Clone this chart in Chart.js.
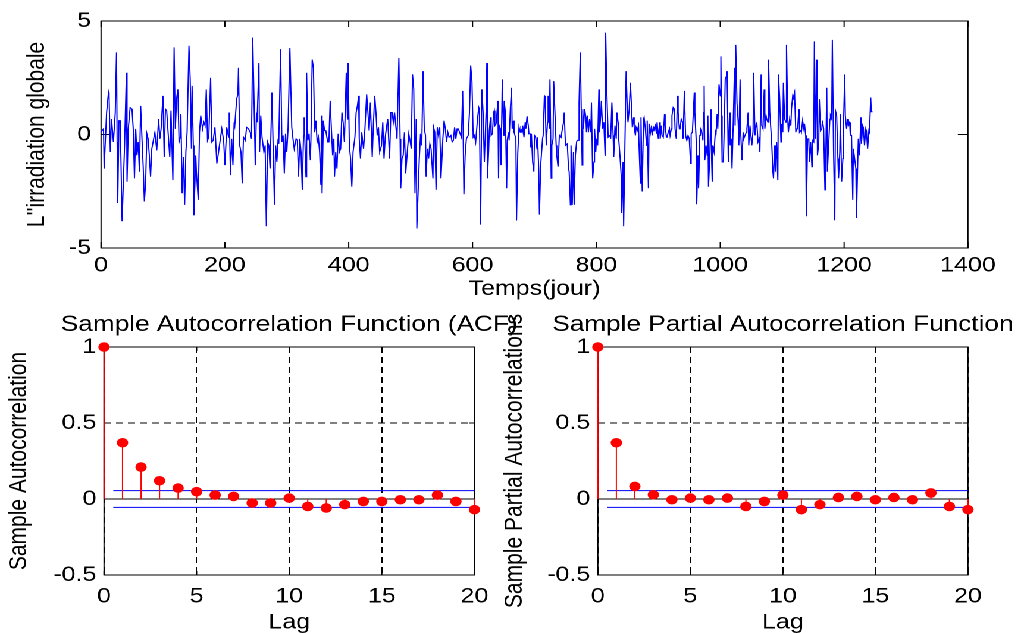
<!DOCTYPE html>
<html>
<head>
<meta charset="utf-8">
<script src="https://cdn.jsdelivr.net/npm/chart.js@4.4.0/dist/chart.umd.min.js"></script>
<style>
  html, body { margin: 0; padding: 0; background: #fff; overflow: hidden; }
  /* the source figure is stretched sideways, so the whole figure is too */
  #fig { position: absolute; left: 0; top: 0; width: 855.5px; height: 633px; transform: scaleX(1.19); transform-origin: 0 0; }
  canvas { position: absolute; }
  #series { left: 0; top: 0; width: 855px; height: 305px; }
  #acf { left: 0; top: 300px; width: 445px; height: 333px; }
  #pacf { left: 415px; top: 300px; width: 440px; height: 333px; }
</style>
</head>
<body>
<div id="fig">
  <canvas id="series" width="855" height="305"></canvas>
  <canvas id="acf" width="445" height="333"></canvas>
  <canvas id="pacf" width="440" height="333"></canvas>
</div>
<script>
// daily global irradiation (standardised)
const days = [
  0,4,5,9,12,13,15,17,20,23, 25,26,27,29,31,34,38,41,42,44, 47,50,52,54,56,58,60,62,64,67,
  68,70,72,74,76,78,80,82,85,87, 90,93,95,97,100,102,104,106,109,111, 113,116,118,120,122,124,126,128,129,131,
  133,135,137,139,142,144,146,147,149,150, 153,154,157,159,161,164,166,168,170,172, 174,177,179,181,184,187,189,192,195,198,
  200,203,206,207,209,211,213,215,216,219, 221,222,224,226,228,230,233,235,238,241, 243,245,248,249,251,252,255,256,258,260,
  263,265,267,269,271,273,276,278,280,282, 284,286,287,290,292,294,296,298,300,302, 305,308,310,312,
  315,317,319,321,323,325,327,328,331,332, 334,336,338,339,341,343,345,347,349,351, 353,355,356,357,359,361,363,366,368,370,
  372,374,376,377,379,381,383,385,387,389, 391,393,396,398,399,401,403,405,407,410, 412,414,416,417,419,421,424,426,429,431,
  433,435,438,440,442,444,446,448,450,453, 455,457,459,461,463,466,468,470,472,474, 476,478,481,483,484,486,488,490,492,495,
  497,499,501,503,505,507,509,510,512,514, 516,518,520,522,524,525,527,529,531,533, 536,537,539,541,543,545,547,549,552,554,
  556,558,560,562,565,567,569,571,573,575, 577,580,582,584,586,588,590,593,595,597, 599,601,603,605,608,610,611,613,615,617,
  619,622,623,624,626,627,
  629,630,632,634,635,636,638,641,642,643, 645,646,648,650,651,653,655,656,658,659, 661,663,664,666,667,670,671,673,675,677,
  678,680,681,683,685,686,688,690,691,693, 694,695,697,699,700,702,704,705,707,708, 710,713,714,716,717,719,721,722,724,725,
  727,728,730,731,733,735,736,738,740,741, 743,745,747,748,750,751,753,755,756,758, 759,761,763,764,766,768,769,771,772,774,
  776,777,778,779,781,783,784,786,787,789, 791,792,794,796,797,799,800,802,804,805, 807,808,810,812,814,815,817,819,820,822,
  823,825,827,828,830,832,833,835,836,838, 840,841,843,844,846,848,850,851,853,855, 856,858,860,861,863,864,866,868,869,871,
  872,874,876,877,879,881,882,884,885,887, 889,890,892,893,895,897,898,900,902,903, 905,906,908,910,911,913,914,916,918,919,
  921,922,924,926,927,929,931,932,934,935, 937,939,940,942,
  944,946,948,950,952,953,955,958,959,961, 962,964,965,967,968,970,972,973,974,975, 977,979,980,981,983,985,986,987,988,990,
  992,993,995,996,998,1000,1001,1002,1003,1005, 1007,1008,1010,1011,1013,1015,1016,1018,1019,1021,
  1023,1024,1025,1027,1029,1030,1032,1033,1035,1037, 1038,1040,1042,1043,1045,1046,1048,1050,1051,1053,
  1054,1056,1058,1059,1061,1063,1064,1066,1067,1069, 1071,1072,1074,1075,1077,1078,1080,1081,1083,1085,
  1086,1088,1089,1091,1093,1094,1096,1098,1099,1101, 1102,1104,1106,1107,1109,1110,1112,1114,1115,1117,
  1118,1120,1122,1123,1125,1127,1128,1130,1131,1133, 1135,1136,1138,1139,1141,1143,1144,1146,1148,1149,
  1151,1152,1154,1156,1157,1159,1160,1162,1164,1165, 1167,1169,1170,1172,1173,1175,1177,1178,1180,1181,
  1183,1185,1186,1188,1190,1191,1193,1194,1196,1198, 1199,1201,1202,1204,1206,1207,1209,1210,1212,1214,
  1215,1217,1219,1220,1222,1223,1225,1227,1228,1230, 1231,1233,1235,1236,1238,1240,1241,1243,1244,1245
];
const irradiation = [
  0.10,0.25,-1.50,0.97,1.85,1.70,-0.77,0.68,-0.33,0.97, 3.62,-0.33,-3.02,0.61,0.61,-3.82,-0.48,2.72,-2.08,0.25,
  1.19,1.12,0.25,-1.93,0.25,-0.92,-0.33,-1.64,1.26,-0.77, -1.35,-2.95,-2.15,0.03,-0.19,-0.92,-1.86,-0.63,-0.19,0.10,
  -0.70,0.68,-0.19,0.25,1.70,-0.99,1.12,1.05,-0.19,-0.99, 1.05,-2.01,3.84,0.25,1.56,1.99,-0.33,-0.12,0.90,-2.59,
  -0.99,-3.10,-0.77,0.10,3.91,2.43,-0.63,2.14,-0.48,-3.56, -0.92,-1.64,-2.88,0.10,0.83,0.25,0.54,0.39,1.99,-0.26,
  -0.12,2.50,-0.33,-0.26,0.32,-1.28,-0.92,-0.33,0.25,-0.26, -1.35,0.32,-0.12,0.97,-1.79,-0.19,-1.35,0.54,0.39,1.56,
  1.77,2.94,-0.48,-0.77,-2.15,-0.12,-0.26,0.32,0.25,0.10, -0.19,4.27,0.25,-1.35,0.97,0.54,3.15,-0.77,0.83,-0.12,
  -0.77,-0.48,-4.04,-0.33,-0.48,-1.50,1.85,-0.63,-3.10,-0.48, -1.21,-0.19,-0.41,3.76,-0.33,-0.04,-1.72,0.03,-0.77,0.25,
  3.81,0.32,-0.19,-0.63,
  -0.19,-0.26,-1.86,-0.19,-0.77,-2.44,-0.04,0.76,-1.86,2.72, -0.26,0.03,-1.13,-0.19,3.30,2.94,0.10,0.61,-0.33,-0.12,
  -0.77,-2.22,0.83,-2.59,0.61,0.17,0.17,-0.33,-0.33,1.48, 0.25,-0.92,-0.19,-1.86,-0.77,-1.50,0.03,-0.77,-0.63,0.97,
  0.54,-0.33,2.72,0.68,3.15,-0.48,-1.06,-2.30,-0.77,-0.12, 0.97,1.26,1.70,-0.19,-1.06,0.10,-0.63,0.17,1.77,0.97,
  0.17,1.41,-0.99,0.54,1.70,0.97,-0.04,0.32,-0.77,-0.48, 0.54,-1.06,-0.12,0.32,0.68,-1.06,0.97,0.97,0.54,0.97,
  0.39,-0.19,3.37,-0.19,-2.37,-1.06,-0.92,0.10,-1.72,-0.63, 0.03,-0.26,-0.63,2.65,1.99,-2.59,0.68,-4.14,-2.59,-1.06,
  0.03,-0.48,2.79,0.25,-0.04,-1.86,-0.63,-1.06,-0.41,-0.63, -1.93,0.32,0.10,-2.44,0.32,-0.04,0.32,-1.93,-0.19,0.61,
  0.25,-0.33,0.10,-0.12,-0.04,-0.33,-0.26,0.32,-0.19,0.25, 0.25,0.03,-0.12,1.92,-2.63,-0.92,-0.19,-0.04,0.97,3.04,
  2.35,-0.12,-0.04,-0.33,0.68,1.19,1.12,-3.97,1.99,0.97, -1.21,1.12,3.15,-1.93,-0.70,0.17,
  0.76,-0.04,0.03,0.97,1.05,0.39,0.47,1.48,-1.93,0.39, 0.25,-1.35,2.43,-0.04,1.48,0.97,-2.37,-0.26,0.10,-0.26,
  1.12,2.06,0.25,0.61,0.10,-0.19,-3.79,-0.84,0.32,0.10, 0.25,0.10,0.39,-0.12,0.54,0.25,0.80,0.39,0.03,0.03,
  -0.55,0.03,-1.21,-1.64,-0.04,-0.12,-0.63,-0.12,-1.64,-3.53, -1.35,-0.19,-0.04,1.70,1.63,-0.48,0.54,1.70,0.25,2.43,
  -1.93,-0.48,-0.19,2.35,0.97,-0.48,-0.92,-1.42,-0.12,-0.04, -0.12,0.25,0.54,0.97,-0.48,-0.48,-0.41,-1.50,-1.64,-3.10,
  -0.48,-3.10,-0.77,-3.10,-0.92,-0.33,-0.26,-0.26,1.41,3.62, 0.25,-1.35,1.12,0.25,1.12,0.76,0.10,0.83,0.10,0.68,
  0.10,1.41,-1.93,-1.21,0.25,-0.77,-0.19,-0.48,1.99,0.10, 0.83,1.48,0.25,0.54,-0.92,4.49,1.70,-0.12,-0.12,-0.04,
  -0.19,1.41,-0.04,-0.99,0.39,-0.19,0.97,0.54,-0.19,-0.92, -1.79,-3.46,-1.21,-4.04,-0.48,2.79,0.97,0.54,1.12,2.28,
  1.63,0.32,0.76,0.32,-0.04,0.32,0.17,0.39,-0.63,-2.15, 0.76,-2.51,0.68,0.76,0.25,-0.48,0.61,-2.37,0.47,0.03,
  0.39,-0.04,0.32,0.25,0.39,0.03,0.54,-0.19,0.54,-0.19, 0.39,-0.04,-0.12,0.90,0.39,-0.12,-0.12,0.10,0.25,-0.04,
  0.25,0.83,1.19,1.12,0.25,-0.19,1.70,0.97,0.25,0.25, 0.68,0.54,-0.19,1.92,
  -0.04,-0.26,-0.04,-0.19,-1.28,0.03,0.10,1.85,0.97,-0.19, -3.07,-0.92,-2.37,-0.04,0.25,0.10,-0.26,0.97,2.14,-1.13,
  -0.48,-0.92,0.83,-2.30,-1.06,1.12,-1.06,-2.08,-0.48,-0.77, 0.10,-0.04,0.90,0.25,2.21,1.70,3.44,0.83,-1.21,-1.21,
  0.97,2.43,2.57,2.79,-1.21,0.97,-0.48,-0.19,-1.50,0.54, 2.94,0.39,3.95,1.41,0.54,-0.48,2.43,0.10,-1.13,0.10,
  -0.19,-0.04,0.10,0.25,0.97,-0.48,0.39,-0.19,-0.48,0.17, 2.72,-0.04,0.47,0.54,-0.33,-0.19,-0.77,2.65,0.39,0.25,
  1.99,0.25,0.83,0.68,0.54,3.30,0.97,0.54,-0.33,-1.64, -1.93,-0.48,-1.64,-0.33,-2.01,2.65,1.56,-0.33,0.47,0.10,
  2.28,0.68,0.54,3.95,0.68,0.10,0.68,0.39,1.12,1.70, 1.63,1.85,0.10,0.25,0.25,1.12,0.10,0.17,0.10,0.61,
  0.25,0.47,-0.04,-3.60,-0.19,-0.19,-1.21,-0.33,-1.42,-0.26, -0.33,4.10,-0.19,3.30,-0.92,-0.41,1.56,0.17,0.25,0.61,
  0.25,-2.44,-1.79,2.06,-1.64,-0.48,0.68,0.83,0.68,4.17, -0.77,-3.78,1.05,0.83,-1.06,-1.93,-0.77,0.90,-2.08,-1.06,
  0.39,2.65,0.83,0.25,0.68,0.39,0.54,-0.04,-0.04,-2.88, -0.63,-1.06,-1.50,-3.68,-1.21,-0.19,-0.92,0.76,-0.41,0.39,
  0.32,-0.48,0.25,0.17,-0.63,0.17,0.10,1.63,1.00,1.03
];

const lags = [0,1,2,3,4,5,6,7,8,9,10,11,12,13,14,15,16,17,18,19,20];
const acf = [1, 0.37, 0.21, 0.12, 0.072, 0.048, 0.026, 0.017, -0.026, -0.026, 0.006,
             -0.049, -0.059, -0.037, -0.016, -0.016, -0.005, -0.005, 0.026, -0.016, -0.07];
const pacf = [1, 0.37, 0.083, 0.028, -0.005, 0.006, -0.005, 0.006, -0.049, -0.016, 0.026,
              -0.07, -0.037, 0.01, 0.017, -0.005, 0.01, -0.005, 0.04, -0.049, -0.07];
const bounds = [0.055, -0.055];
const boundLags = [0.5, 20];

const seriesXTicks = [0, 200, 400, 600, 800, 1000, 1200, 1400];
const seriesYTicks = [-5, 0, 5];
const lagTicks = [0, 5, 10, 15, 20];
const corrTicks = [-0.5, 0, 0.5, 1];

const FONT = "'Liberation Sans', Arial, Helvetica, sans-serif";
Chart.defaults.font.family = FONT;
Chart.defaults.font.size = 21;
Chart.defaults.color = "#000";

const fixedTicks = list => s => { s.ticks = list.map(v => ({ value: v })); };

// matlab-ish frame: full box + inward ticks under the data, title on top
const framePlugin = {
  id: "frame",
  beforeDatasetsDraw(chart, args, o) {
    const { ctx, chartArea: a, scales: { x, y } } = chart;
    ctx.save();
    ctx.strokeStyle = "#000";
    ctx.lineWidth = 1;
    ctx.setLineDash([]);
    ctx.strokeRect(a.left, a.top, a.right - a.left, a.bottom - a.top);
    ctx.beginPath();
    x.ticks.forEach(t => {
      const px = x.getPixelForValue(t.value);
      ctx.moveTo(px, a.bottom); ctx.lineTo(px, a.bottom - o.xLen);
      ctx.moveTo(px, a.top); ctx.lineTo(px, a.top + o.xLen);
    });
    y.ticks.forEach(t => {
      const py = y.getPixelForValue(t.value);
      ctx.moveTo(a.left, py); ctx.lineTo(a.left + o.yLen, py);
      ctx.moveTo(a.right, py); ctx.lineTo(a.right - o.yLen, py);
    });
    ctx.stroke();
    ctx.restore();
  },
  afterDraw(chart, args, o) {
    if (!o.title) return;
    const { ctx, chartArea: a } = chart;
    ctx.save();
    ctx.fillStyle = "#000";
    ctx.font = "22px " + FONT;
    ctx.textAlign = "center";
    ctx.textBaseline = "alphabetic";
    ctx.fillText(o.title, (a.left + a.right) / 2, o.titleY);
    ctx.restore();
  }
};

// time series
new Chart(document.getElementById("series"), {
  type: "line",
  data: {
    datasets: [{
      data: days.map((d, i) => ({ x: d, y: irradiation[i] })),
      borderColor: "#0000ff", borderWidth: 1, pointRadius: 0, tension: 0
    }]
  },
  options: {
    responsive: false, devicePixelRatio: 2, animation: false, events: [],
    layout: { padding: { left: 0, right: 41.6, top: 18, bottom: 0 } },
    plugins: { legend: { display: false }, tooltip: { enabled: false }, frame: { xLen: 6, yLen: 8.5 } },
    scales: {
      x: {
        type: "linear", min: 0, max: 1400,
        afterBuildTicks: fixedTicks(seriesXTicks),
        afterFit: s => { s.height = 57; },
        grid: { display: false, drawTicks: false }, border: { display: false },
        ticks: { padding: 5, maxRotation: 0, autoSkip: false, callback: v => String(v) },
        title: { display: true, text: "Temps(jour)", padding: { top: 0, bottom: 3 } }
      },
      y: {
        min: -5, max: 5,
        afterBuildTicks: fixedTicks(seriesYTicks),
        afterFit: s => { s.width = 84.9; },
        grid: { display: false, drawTicks: false }, border: { display: false },
        ticks: { padding: 8.4, callback: v => String(v) },
        title: { display: true, text: "L''irradiation globale", padding: { top: 18.5, bottom: 0 } }
      }
    }
  },
  plugins: [framePlugin]
});

function stems(vals) {
  const pts = [];
  lags.forEach((l, i) => { pts.push({ x: l, y: 0 }, { x: l, y: vals[i] }, { x: l, y: null }); });
  return pts;
}

function corrChart(id, vals, title, ylabel, titlePad) {
  return new Chart(document.getElementById(id), {
    type: "scatter",
    data: {
      datasets: [
        { data: lags.map((l, i) => ({ x: l, y: vals[i] })), pointRadius: 4.3, pointBackgroundColor: "#ff0000",
          pointBorderColor: "#ff0000", pointBorderWidth: 1, showLine: false, clip: false, order: 0 },
        { data: stems(vals), showLine: true, spanGaps: false, pointRadius: 0, borderColor: "#ff0000", borderWidth: 1, clip: false, order: 1 },
        { data: [{ x: lags[0], y: 0 }, { x: lags[lags.length - 1], y: 0 }], showLine: true, pointRadius: 0,
          borderColor: "#000", borderWidth: 1, order: 2 },
        { data: boundLags.map(l => ({ x: l, y: bounds[0] })), showLine: true, pointRadius: 0, borderColor: "#0000ff", borderWidth: 1, order: 3 },
        { data: boundLags.map(l => ({ x: l, y: bounds[1] })), showLine: true, pointRadius: 0, borderColor: "#0000ff", borderWidth: 1, order: 3 }
      ]
    },
    options: {
      responsive: false, devicePixelRatio: 2, animation: false, events: [],
      layout: { padding: { left: 0, right: id === "acf" ? 46.3 : 41.6, top: 47, bottom: 0 } },
      plugins: { legend: { display: false }, tooltip: { enabled: false },
                 frame: { xLen: 4, yLen: 4.5, title: title, titleY: 31 } },
      scales: {
        x: {
          type: "linear", min: 0, max: 20,
          afterBuildTicks: fixedTicks(lagTicks),
          afterFit: s => { s.height = 58; },
          grid: { color: "#000", lineWidth: 1, drawTicks: false }, border: { display: false, dash: [6, 4] },
          ticks: { padding: 9, maxRotation: 0, autoSkip: false, callback: v => String(v) },
          title: { display: true, text: "Lag", padding: { top: 0, bottom: -2.5 } }
        },
        y: {
          min: -0.5, max: 1,
          afterBuildTicks: fixedTicks(corrTicks),
          afterFit: s => { s.width = 87.4; },
          grid: { color: "#000", lineWidth: 1, drawTicks: false }, border: { display: false, dash: [6, 4] },
          ticks: { padding: 6.4, callback: v => String(v) },
          title: { display: true, text: ylabel, padding: { top: titlePad, bottom: 0 } }
        }
      }
    },
    plugins: [framePlugin]
  });
}

corrChart("acf", acf, "Sample Autocorrelation Function (ACF)", "Sample Autocorrelation", 3.4);
corrChart("pacf", pacf, "Sample Partial Autocorrelation Function", "Sample Partial Autocorrelations", 5.2);
</script>
</body>
</html>
